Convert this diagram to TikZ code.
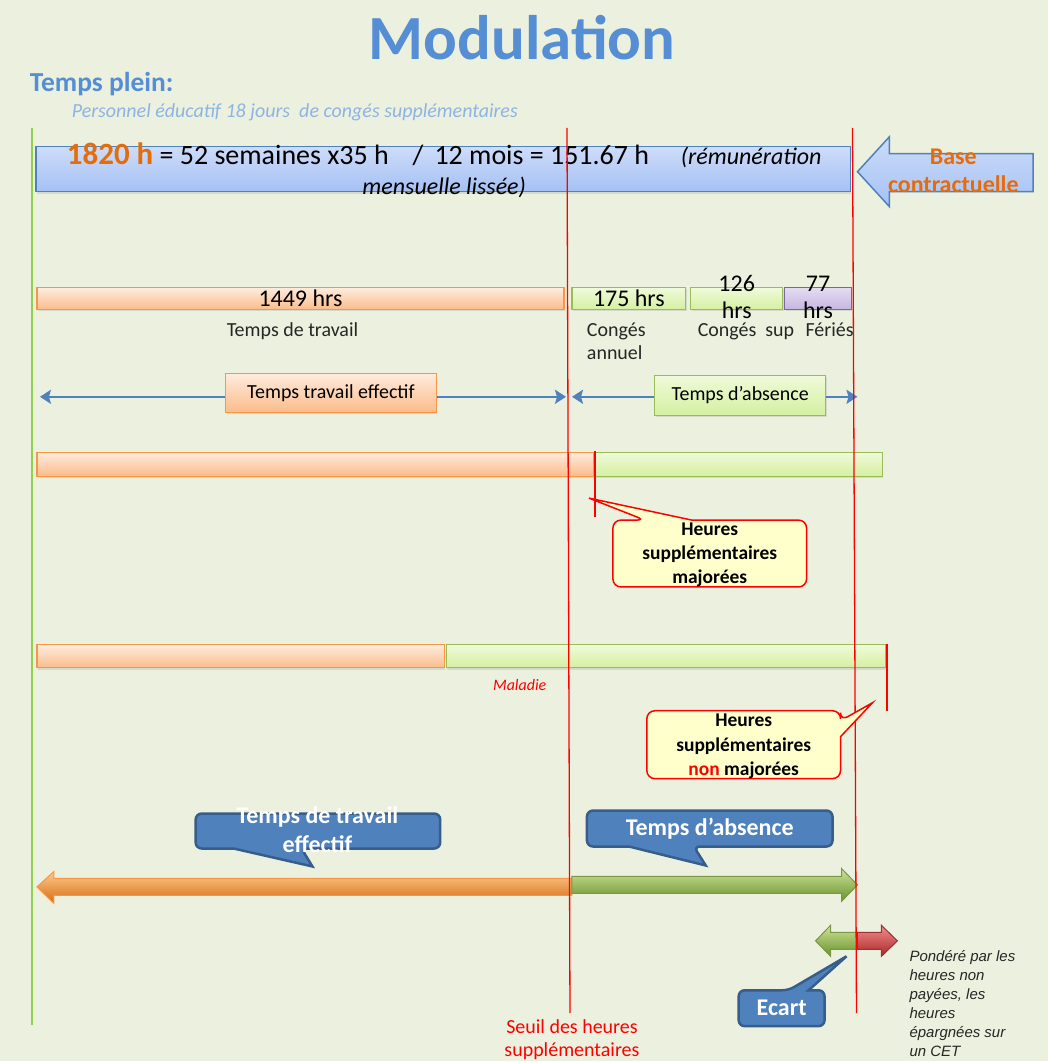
\documentclass[tikz,border=0pt]{standalone}
\usepackage{fontspec}
\setmainfont{Carlito}
\newfontfamily\arialfont{Liberation Sans}
\usetikzlibrary{shapes.geometric, arrows, arrows.meta, positioning, shadows}
\definecolor{bgcolor}{RGB}{235,241,222}
\definecolor{titleblue}{RGB}{85,142,213}
\definecolor{subblue}{RGB}{142,180,227}
\definecolor{numorange}{RGB}{228,108,10}
\definecolor{accblue}{RGB}{79,129,189}
\definecolor{darkblue}{RGB}{56,93,138}
\definecolor{accorange}{RGB}{247,150,70}
\definecolor{accgreen}{RGB}{155,187,89}
\definecolor{accpurple}{RGB}{128,100,162}
\definecolor{boxtop}{RGB}{205,220,248}
\definecolor{boxbot}{RGB}{165,193,245}
\definecolor{orangetop}{RGB}{254,236,222}
\definecolor{orangebot}{RGB}{251,188,138}
\definecolor{greentop}{RGB}{240,250,218}
\definecolor{greenbot}{RGB}{212,240,160}
\definecolor{purpletop}{RGB}{228,220,242}
\definecolor{purplebot}{RGB}{198,182,225}
\definecolor{calloutyellow}{RGB}{255,255,204}
\definecolor{linegreen}{RGB}{146,208,80}
\newcommand{\fsz}[2]{\fontsize{#1}{#2}\selectfont}
\tikzstyle{lbl} = [inner sep=0pt, outer sep=0pt, anchor=base]
\tikzstyle{bar} = [draw, line width=1.2pt, inner sep=0pt, outer sep=0pt, anchor=north west, font=\fsz{24}{28}, drop shadow={opacity=0.2, shadow xshift=1pt, shadow yshift=-2pt}]
\tikzstyle{orangebar} = [bar, draw=accorange, top color=orangetop, bottom color=orangebot]
\tikzstyle{greenbar} = [bar, draw=accgreen, top color=greentop, bottom color=greenbot]
\tikzstyle{purplebar} = [bar, draw=accpurple, top color=purpletop, bottom color=purplebot]
\tikzstyle{yellowbubble} = [draw=red, line width=1.5pt, fill=calloutyellow, rounded corners=8pt]
\tikzstyle{bluebubble} = [draw=darkblue, line width=2.5pt, fill=accblue, rounded corners=6pt]
\tikzstyle{bubbletext} = [align=center, text=white, font=\fsz{24}{29}\bfseries]
\tikzstyle{redline} = [red, line width=1.3pt]
\tikzstyle{bluearrow} = [accblue, line width=2.5pt, <->, >={Stealth[length=11pt, width=14pt, inset=2pt]}]

\begin{document}
\begin{tikzpicture}[x=1pt, y=-1pt]
% fond
\fill[bgcolor] (0,0) rectangle (1050,1063);

% titre
\node[lbl, text=titleblue, font=\fsz{63}{63}\bfseries] (title) at (523,60) {Modulation};
\node[lbl, anchor=base west, text=titleblue, font=\fsz{27.5}{27.5}\bfseries] (tplein) at (30,92) {Temps plein:};
\node[lbl, anchor=base west, text=subblue, font=\fsz{20}{20}\itshape] (perso) at (72,118) {Personnel éducatif 18 jours\ \ de congés supplémentaires};

% base contractuelle
\node[bar, draw=accblue, top color=boxtop, bottom color=boxbot, minimum width=816pt, minimum height=45pt] (base) at (36,147) {};
\node[lbl, font=\fsz{28}{28}] (calc1) at (445,165) {{\fsz{31}{31}\bfseries\color{numorange}1820 h} = 52 semaines x35 h\hspace{24pt}/\hspace{11pt}12 mois = 151.67 h\hspace{32pt}{\fsz{24}{24}\itshape(rémunération}};
\node[lbl, font=\fsz{24}{24}\itshape] (calc2) at (445,195) {mensuelle lissée)};
\shade[top color=boxtop, bottom color=boxbot, draw=accblue, line width=1.5pt]
  (1035,154) -- (891,154) -- (891,137) -- (859,172) -- (891,207) -- (891,192) -- (1035,192) -- cycle;
\node[align=center, text=numorange, font=\fsz{24}{28}\bfseries] (bctxt) at (955,171) {Base\\contractuelle};

% repartition des heures
\node[orangebar, minimum width=528pt, minimum height=22pt] (trav) at (37,288) {1449 hrs};
\node[greenbar, minimum width=114pt, minimum height=22pt] (cpa) at (573,288) {175 hrs};
\node[greenbar, minimum width=92pt, minimum height=22pt] (cps) at (692,288) {};
\node[purplebar, minimum width=67pt, minimum height=22pt] (fer) at (786,288) {};
\node[align=center, font=\fsz{24}{27}] (cpstxt) at ([yshift=1.5pt]cps.center) {126\\hrs};
\node[align=center, font=\fsz{24}{27}] (fertxt) at ([yshift=1.5pt]fer.center) {77\\hrs};
\node[lbl, font=\fsz{20}{23}, text=black!85] (ltrav) at (293,337) {Temps de travail};
\node[lbl, anchor=base west, font=\fsz{20}{23}, text=black!85] (lcpa1) at (588,337) {Congés};
\node[lbl, anchor=base west, font=\fsz{20}{23}, text=black!85] (lcpa2) at (588,360) {annuel};
\node[lbl, anchor=base west, font=\fsz{20}{23}, text=black!85] (lcps) at (699,337) {Congés\ \ sup};
\node[lbl, anchor=base west, font=\fsz{20}{23}, text=black!85] (lfer) at (807,337) {Fériés};

% fleches bleues
\coordinate (tl) at (40,397.5);
\coordinate (tm) at (567,397.5);
\coordinate (al) at (573,397.5);
\coordinate (ar) at (859,397.5);
\draw[bluearrow] (tl) -- (tm);
\draw[bluearrow] (al) -- (ar);
\node[orangebar, minimum width=211pt, minimum height=39pt, font=\fsz{20}{20}] (tte) at (226,374) {Temps travail effectif};
\node[greenbar, minimum width=171pt, minimum height=40pt, font=\fsz{20}{20}] (tabs) at (656,376) {Temps d’absence};

% cas 1
\node[orangebar, minimum width=558pt, minimum height=24pt] (trav1) at (37,453) {};
\node[greenbar, minimum width=288pt, minimum height=24pt] (abs1) at (596,453) {};

% cas 2
\node[orangebar, minimum width=408pt, minimum height=23pt] (trav2) at (37,646) {};
\node[greenbar, minimum width=440pt, minimum height=23pt] (abs2) at (447,646) {};
\node[lbl, anchor=base west, text=red, font=\fsz{16}{16}\itshape] (mal) at (494,692) {Maladie};

% grandes fleches
\shade[top color={rgb,255:red,252;green,204;blue,140}, bottom color={rgb,255:red,215;green,108;blue,20}, draw=accorange, line width=1pt]
  (573,880) -- (54,880) -- (54,873) -- (37,888.5) -- (54,905) -- (54,897) -- (573,897) -- cycle;
\shade[top color={rgb,255:red,205;green,228;blue,150}, bottom color={rgb,255:red,105;green,145;blue,45}, draw=accgreen!80!black, line width=1pt]
  (573,878) -- (843,878) -- (843,870) -- (859,886.5) -- (843,903) -- (843,895) -- (573,895) -- cycle;
\shade[top color={rgb,255:red,205;green,228;blue,150}, bottom color={rgb,255:red,105;green,145;blue,45}, draw=accgreen!80!black, line width=1pt]
  (859,934) -- (832,934) -- (832,927) -- (817,942.5) -- (832,958) -- (832,951) -- (859,951) -- cycle;
\shade[top color={rgb,255:red,242;green,140;blue,140}, bottom color={rgb,255:red,170;green,40;blue,40}, draw={rgb,255:red,150;green,50;blue,50}, line width=1pt]
  (859,934) -- (883,934) -- (883,927) -- (899,942.5) -- (883,958) -- (883,951) -- (859,951) -- cycle;

% lignes verticales
\coordinate (g1) at (32,128);
\coordinate (g2) at (32,1027);
\coordinate (s1) at (568,128);
\coordinate (s2) at (571,1015);
\coordinate (c1) at (854,128);
\coordinate (c2) at (858,1015);
\coordinate (m1) at (596,452);
\coordinate (m2) at (596,518);
\coordinate (n1) at (888.5,645);
\coordinate (n2) at (888.5,712);
\draw[linegreen, line width=1.3pt] (g1) -- (g2);
\draw[redline] (s1) -- (s2);
\draw[redline] (c1) -- (c2);
\draw[redline] (m1) -- (m2);
\draw[redline] (n1) -- (n2);

% bulles
\draw[yellowbubble] (614,555) -- (614,521) -- (646,521) [sharp corners] -- (590,499) -- (693,521) [rounded corners=8pt] -- (808,521) -- (808,588) -- (614,588) -- cycle;
\node[align=center, font=\fsz{19.5}{24}\bfseries] (hsm) at (711,556) {Heures\\supplémentaires\\majorées};
\draw[yellowbubble] (648,746) -- (648,712) -- (842,712) -- (842,722) [sharp corners] -- (874,704) -- (842,738) [rounded corners=8pt] -- (842,780) -- (648,780) -- cycle;
\node[align=center, font=\fsz{19.5}{24.5}\bfseries] (hsnm) at (745,748) {Heures\\supplémentaires\\{\color{red}non} majorées};
\draw[bluebubble] (196,832) -- (196,815) -- (441,815) -- (441,850) -- (302,850) [sharp corners] -- (313,868) -- (234,850) [rounded corners=6pt] -- (196,850) -- cycle;
\node[bubbletext] (ctte) at (318,831) {Temps de travail\\effectif};
\draw[bluebubble] (588,830) -- (588,812) -- (834,812) -- (834,848) -- (695,848) [sharp corners] -- (707,867) -- (630,848) [rounded corners=6pt] -- (588,848) -- cycle;
\node[bubbletext] (cabs) at (711,830) {Temps d’absence};
\draw[bluebubble] (740,1010) -- (740,992) -- (790,992) [sharp corners] -- (848,958) -- (810,992) [rounded corners=6pt] -- (826,992) -- (826,1028) -- (740,1028) -- cycle;
\node[bubbletext] (ecart) at (783,1010) {Ecart};

% notes
\node[align=left, anchor=west, inner sep=0pt, font=\arialfont\fsz{15}{19}\itshape, text=black!85] (pond) at (911,1005) {Pondéré par les\\heures non\\payées, les\\heures\\épargnées sur\\un CET};
\node[align=center, text=red, font=\fsz{20}{23}] (seuil) at (573,1041.5) {Seuil des heures\\supplémentaires};
\end{tikzpicture}
\end{document}
